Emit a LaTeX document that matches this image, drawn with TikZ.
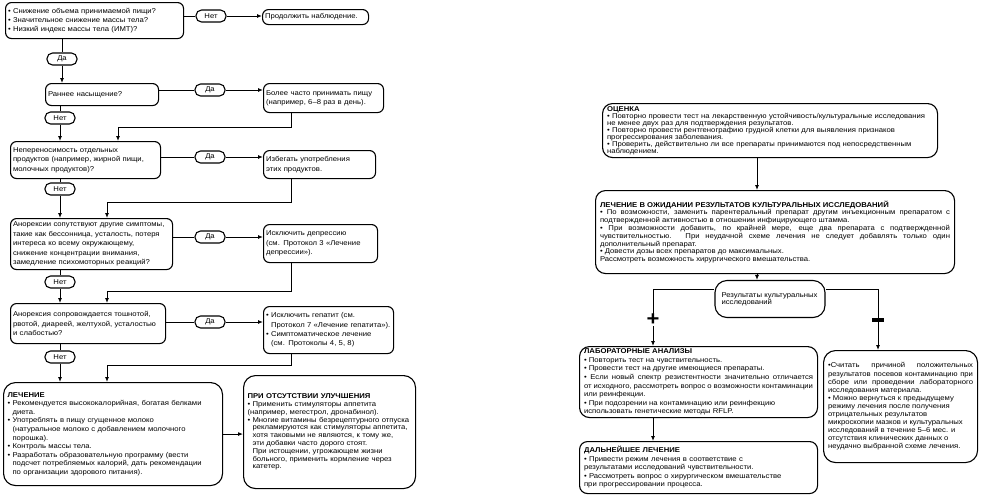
\documentclass[tikz,border=0pt]{standalone}
\usepackage{fontspec}
\setmainfont{Liberation Sans}[FakeStretch=1.1]
\usetikzlibrary{arrows.meta}

\tolerance=9999
\emergencystretch=12pt
\hbadness=10000

\newcommand{\hangin}{\hspace*{5pt}}

\begin{document}
\begin{tikzpicture}[
    x=1pt, y=-1pt,
    qbox/.style={draw, line width=1.1pt, rounded corners=6pt, anchor=north west, inner xsep=2.5pt, inner ysep=2pt, align=left, font=\fontsize{7}{9.4}\selectfont},
    notebox/.style={qbox, rounded corners=12pt, inner xsep=4pt, font=\fontsize{7}{#1}\selectfont},
    pill/.style={draw, line width=1.1pt, rounded corners=5.5pt, minimum width=30pt, minimum height=12pt, inner sep=1pt, font=\fontsize{7}{8}\selectfont},
    rbox/.style={draw, line width=1.1pt, rounded corners=10pt, anchor=north west, inner xsep=4.5pt, inner ysep=2pt, align=justify, font=\fontsize{7}{#1}\selectfont},
    link/.style={line width=0.9pt},
    flow/.style={link, -{Latex[length=5pt,width=4pt]}}
]
  \useasboundingbox (0,0) rectangle (989,496);

  % left chart: questions and answers
  \node[qbox, text width=173pt, minimum height=36pt] (qA) at (5,2)
    {• Снижение объема принимаемой пищи?\\• Значительное снижение массы тела?\\• Низкий индекс массы тела (ИМТ)?};
  \node[pill] (n1) at (211,16) {Нет};
  \node[qbox, text width=101pt, minimum height=15pt] (rA) at (262,9) {Продолжить наблюдение.};
  \node[pill] (y1) at (62,59) {Да};

  \node[qbox, text width=108pt, minimum height=22pt] (qB) at (45,83) {Раннее насыщение?};
  \node[pill] (y2) at (210,90) {Да};
  \node[qbox, text width=115pt, minimum height=29pt] (rB) at (263,83)
    {Более часто принимать пищу\\(например, 6--8 раз в день).};
  \node[pill] (n2) at (60,118) {Нет};

  \node[qbox, text width=145pt, minimum height=37pt] (qC) at (10,141)
    {Непереносимость отдельных\\продуктов (например, жирной пищи,\\молочных продуктов)?};
  \node[pill] (y3) at (210,157) {Да};
  \node[qbox, text width=107pt, minimum height=28pt] (rC) at (263,150)
    {Избегать употребления\\этих продуктов.};
  \node[pill] (n3) at (60,189) {Нет};

  \node[qbox, text width=157pt, minimum height=51pt] (qD) at (10,218)
    {Анорексии сопутствуют другие симптомы,\\такие как бессонница, усталость, потеря\\интереса ко всему окружающему,\\снижение концентрации внимания,\\замедление психомоторных реакций?};
  \node[pill] (y4) at (210,237) {Да};
  \node[qbox, text width=109pt, minimum height=38pt] (rD) at (263,224)
    {Исключить депрессию\\(см. Протокол 3 «Лечение\\депрессии»).};
  \node[pill] (n4) at (60,282) {Нет};

  \node[qbox, text width=150pt, minimum height=40pt] (qE) at (10,303)
    {Анорексия сопровождается тошнотой,\\рвотой, диареей, желтухой, усталостью\\и слабостью?};
  \node[pill] (y5) at (210,322) {Да};
  \node[qbox, text width=125pt, minimum height=47pt] (rE) at (263,306)
    {• Исключить гепатит (см.\\\hangin Протокол 7 «Лечение гепатита»).\\• Симптоматическое лечение\\\hangin (см. Протоколы 4, 5, 8)};
  \node[pill] (n5) at (60,357) {Нет};

  \node[notebox=8.6, text width=211pt, minimum height=103pt] (tF) at (3,382)
    {\textbf{ЛЕЧЕНИЕ}\\• Рекомендуется высококалорийная, богатая белками\\\hangin диета.\\• Употреблять в пищу сгущенное молоко\\\hangin (натуральное молоко с добавлением молочного\\\hangin порошка).\\• Контроль массы тела.\\• Разработать образовательную программу (вести\\\hangin подсчет потребляемых калорий, дать рекомендации\\\hangin по организации здорового питания).};
  \node[notebox=7.8, text width=164pt, minimum height=113pt] (tG) at (243,375)
    {\textbf{ПРИ ОТСУТСТВИИ УЛУЧШЕНИЯ}\\• Применить стимуляторы аппетита\\(например, мегестрол, дронабинол).\\• Многие витамины безрецептурного отпуска\\\hangin рекламируются как стимуляторы аппетита,\\\hangin хотя таковыми не являются, к тому же,\\\hangin эти добавки часто дорого стоят.\\\hangin При истощении, угрожающем жизни\\\hangin больного, применить кормление через\\\hangin катетер.};

  % left chart: connectors
  \coordinate (tap) at (291,0);
  \coordinate (mC) at (118,127);
  \coordinate (mD) at (107,202);
  \coordinate (mE) at (107,291);
  \coordinate (mF) at (107,365);

  \draw[link] (qA.east |- n1) -- (n1);
  \draw[flow] (n1) -- (n1 -| rA.west);
  \draw[link] (qA.south -| y1) -- (y1);
  \draw[flow] (y1) -- (y1 |- qB.north);

  \draw[link] (qB.east |- y2) -- (y2);
  \draw[flow] (y2) -- (y2 -| rB.west);
  \draw[link] (qB.south -| n2) -- (n2);
  \draw[flow] (n2) -- (n2 |- qC.north);
  \draw[flow] (rB.south -| tap) |- (mC) -- (mC |- qC.north);

  \draw[link] (qC.east |- y3) -- (y3);
  \draw[flow] (y3) -- (y3 -| rC.west);
  \draw[link] (qC.south -| n3) -- (n3);
  \draw[flow] (n3) -- (n3 |- qD.north);
  \draw[flow] (rC.south -| tap) |- (mD) -- (mD |- qD.north);

  \draw[link] (qD.east |- y4) -- (y4);
  \draw[flow] (y4) -- (y4 -| rD.west);
  \draw[link] (qD.south -| n4) -- (n4);
  \draw[flow] (n4) -- (n4 |- qE.north);
  \draw[flow] (rD.south -| tap) |- (mE) -- (mE |- qE.north);

  \draw[link] (qE.east |- y5) -- (y5);
  \draw[flow] (y5) -- (y5 -| rE.west);
  \draw[link] (qE.south -| n5) -- (n5);
  \draw[flow] (n5) -- (n5 |- tF.north);
  \draw[flow] (rE.south -| tap) |- (mF) -- (mF |- tF.north);

  \draw[flow] (tF.east) -- (tF.east -| tG.west);

  % right chart
  \node[rbox=7, align=left, text width=326pt, minimum height=54pt] (tO) at (602,103)
    {\textbf{ОЦЕНКА}\\• Повторно провести тест на лекарственную устойчивость/культуральные исследования\\не менее двух раз для подтверждения результатов.\\• Повторно провести рентгенографию грудной клетки для выявления признаков\\прогрессирования заболевания.\\• Проверить, действительно ли все препараты принимаются под непосредственным\\наблюдением.};
  \node[rbox=7.8, text width=350pt, minimum height=83pt] (tL) at (595,190)
    {\textbf{ЛЕЧЕНИЕ В ОЖИДАНИИ РЕЗУЛЬТАТОВ КУЛЬТУРАЛЬНЫХ ИССЛЕДОВАНИЙ}\\• По возможности, заменить парентеральный препарат другим инъекционным препаратом с подтвержденной активностью в отношении инфицирующего штамма.\\• При возможности добавить, по крайней мере, еще два препарата с подтвержденной чувствительностью. При неудачной схеме лечения не следует добавлять только один дополнительный препарат.\\• Довести дозы всех препаратов до максимальных.\\Рассмотреть возможность хирургического вмешательства.};
  \node[rbox=7.4, rounded corners=12pt, align=left, anchor=center, minimum width=110pt, minimum height=37pt, text width=97pt] (res) at (770,299)
    {Результаты культуральных\\исследований};

  \node[font=\fontsize{20}{20}\selectfont\bfseries, inner sep=0pt] (plus) at (653,320) {+};
  \node[fill, minimum width=12pt, minimum height=3.6pt, inner sep=0pt] (minus) at (878,320) {};

  \node[rbox=8.6, text width=229pt, minimum height=71pt] (tLab) at (579,346)
    {\textbf{ЛАБОРАТОРНЫЕ АНАЛИЗЫ}\\• Повторить тест на чувствительность.\\• Провести тест на другие имеющиеся препараты.\\• Если новый спектр резистентности значительно отличается от исходного, рассмотреть вопрос о возможности контаминации или реинфекции.\\• При подозрении на контаминацию или реинфекцию\\использовать генетические методы RFLP.};
  \node[rbox=8.5, align=left, rounded corners=8pt, text width=229pt, minimum height=52pt] (tDal) at (579,441)
    {\textbf{ДАЛЬНЕЙШЕЕ ЛЕЧЕНИЕ}\\• Привести режим лечения в соответствие с\\результатами исследований чувствительности.\\• Рассмотреть вопрос о хирургическом вмешательстве\\при прогрессировании процесса.};
  \node[rbox=8.1, rounded corners=12pt, text width=145pt, minimum height=112pt] (tMin) at (823,350)
    {•Считать причиной положительных результатов посевов контаминацию при сборе или проведении лабораторного исследования материала.\\• Можно вернуться к предыдущему\\режиму лечения после получения\\отрицательных результатов\\микроскопии мазков и культуральных\\исследований в течение 5--6 мес. и\\отсутствия клинических данных о\\неудачно выбранной схеме лечения.};

  % right chart: connectors
  \coordinate (spine) at (757,0);
  \coordinate (split) at (0,289);
  \draw[flow] (tO.south -| spine) -- (spine |- tL.north);
  \draw[flow] (tL.south -| spine) -- (spine |- res.north);
  \draw[link] (res.west |- split) -| (plus.north);
  \draw[flow] (plus.south) -- (plus.south |- tLab.north);
  \draw[link] (res.east |- split) -| (minus.north);
  \draw[flow] (minus.south) -- (minus.south |- tMin.north);
  \draw[flow] (tLab.south -| plus) -- (plus |- tDal.north);
\end{tikzpicture}
\end{document}
